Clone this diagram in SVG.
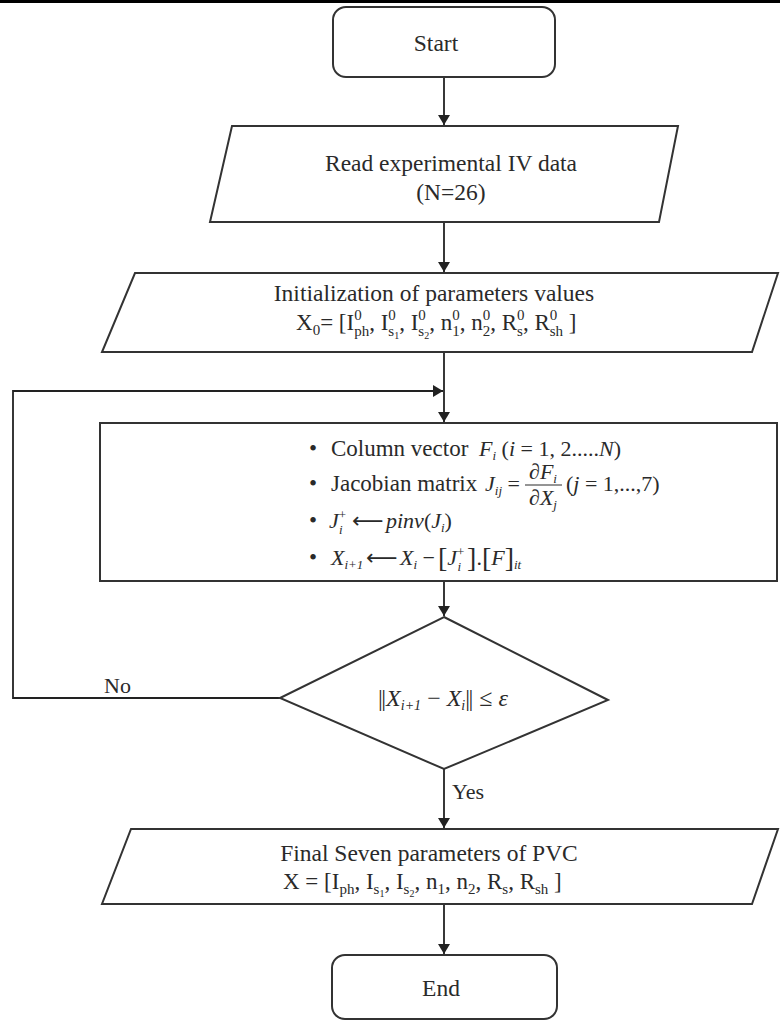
<svg xmlns="http://www.w3.org/2000/svg" width="780" height="1023" viewBox="0 0 780 1023">
<style>
.box{fill:#fff;stroke:#333;stroke-width:2}
.con{fill:none;stroke:#222;stroke-width:1.8}
text{font-family:"Liberation Serif","Times New Roman",serif;fill:#2a2a2a}
.t{font-size:23.5px}
.c{text-anchor:middle}
.s{font-size:15px}
.ss{font-size:10px}
.p{font-size:23px}
.m{font-size:22px}
.ms{font-size:13px}
.i{font-style:italic}
.ar{font-family:"DejaVu Sans",sans-serif}
</style>
<defs>
<marker id="arr" markerUnits="userSpaceOnUse" markerWidth="12" markerHeight="12" refX="10" refY="6" orient="auto">
<path d="M0,0 L10,6 L0,12 z" fill="#222"/>
</marker>
</defs>
<rect x="0" y="0" width="780" height="3" fill="#000"/>
<g id="connectors">
<line class="con" x1="444" y1="77" x2="444" y2="125" marker-end="url(#arr)"/>
<line class="con" x1="444" y1="222" x2="444" y2="272" marker-end="url(#arr)"/>
<line class="con" x1="444" y1="352" x2="444" y2="422" marker-end="url(#arr)"/>
<polyline class="con" points="280,698 13,698 13,391 443,391" marker-end="url(#arr)"/>
<line class="con" x1="444" y1="581" x2="444" y2="616" marker-end="url(#arr)"/>
<line class="con" x1="444" y1="769" x2="444" y2="828" marker-end="url(#arr)"/>
<line class="con" x1="444" y1="904" x2="444" y2="954" marker-end="url(#arr)"/>
<text x="104" y="693" style="font-size:22px">No</text>
<text x="452" y="799" style="font-size:22px">Yes</text>
</g>
<g id="start">
<rect class="box" x="333" y="7" width="222" height="70" rx="13"/>
<text class="t c" x="436" y="51">Start</text>
</g>
<g id="read">
<polygon class="box" points="232,126 678,126 659,222 210,222"/>
<text class="t c" x="451" y="171">Read experimental IV data</text>
<text class="t c" x="451" y="200">(N=26)</text>
</g>
<g id="init">
<polygon class="box" points="135,273 778,273 752,352 102,352"/>
<text class="t c" x="434" y="301">Initialization of parameters values</text>
<text class="p" x="296" y="330">X<tspan class="s" dy="5">0</tspan><tspan dy="-5">= [I</tspan><tspan class="s" dy="-10">0</tspan><tspan class="s" dx="-7.5" dy="16">ph</tspan><tspan dy="-6">, I</tspan><tspan class="s" dy="-10">0</tspan><tspan class="s" dx="-7.5" dy="16">s</tspan><tspan class="ss" dy="3">1</tspan><tspan dy="-9">, I</tspan><tspan class="s" dy="-10">0</tspan><tspan class="s" dx="-7.5" dy="16">s</tspan><tspan class="ss" dy="3">2</tspan><tspan dy="-9">, n</tspan><tspan class="s" dy="-10">0</tspan><tspan class="s" dx="-7.5" dy="16">1</tspan><tspan dy="-6">, n</tspan><tspan class="s" dy="-10">0</tspan><tspan class="s" dx="-7.5" dy="16">2</tspan><tspan dy="-6">, R</tspan><tspan class="s" dy="-10">0</tspan><tspan class="s" dx="-7.5" dy="16">s</tspan><tspan dy="-6">, R</tspan><tspan class="s" dy="-10">0</tspan><tspan class="s" dx="-7.5" dy="16">sh</tspan><tspan dy="-6"> ]</tspan></text>
</g>
<g id="process">
<rect class="box" x="100" y="423" width="677" height="158"/>
<text class="p" x="309" y="456">•</text>
<text class="p" x="331" y="456">Column vector</text>
<text class="m" x="479" y="456"><tspan class="i">F</tspan><tspan class="ms i" dy="4">i</tspan><tspan dy="-4"> (</tspan><tspan class="i">i</tspan> = 1, 2.....<tspan class="i">N</tspan>)</text>
<text class="p" x="309" y="491">•</text>
<text class="p" x="331" y="491">Jacobian matrix</text>
<text class="m" x="485" y="491"><tspan class="i">J</tspan><tspan class="ms i" dy="4">ij</tspan><tspan dy="-4"> =</tspan></text>
<text class="m c" x="543" y="479">∂<tspan class="i">F</tspan><tspan class="ms i" dy="4">i</tspan></text>
<line x1="525" y1="485" x2="562" y2="485" stroke="#2a2a2a" stroke-width="1"/>
<text class="m c" x="543" y="505">∂<tspan class="i">X</tspan><tspan class="ms i" dy="4">j</tspan></text>
<text class="m" x="566" y="491">(<tspan class="i">j</tspan> = 1,...,7)</text>
<text class="p" x="309" y="528">•</text>
<text class="m" x="329" y="528"><tspan class="i">J</tspan><tspan class="ms" dy="-9">+</tspan><tspan class="ms i" dx="-7" dy="15">i</tspan></text>
<text class="m ar" x="352" y="528">⟵</text>
<text class="m" x="386" y="528"><tspan class="i">pinv</tspan>(<tspan class="i">J</tspan><tspan class="ms i" dy="4">i</tspan><tspan dy="-4">)</tspan></text>
<text class="p" x="309" y="565">•</text>
<text class="m" x="331" y="565"><tspan class="i">X</tspan><tspan class="ms i" dy="4">i+1</tspan></text>
<text class="m ar" x="366" y="565">⟵</text>
<text class="m" x="400" y="565"><tspan class="i">X</tspan><tspan class="ms i" dy="4">i</tspan><tspan dy="-4"> −</tspan></text>
<text class="m" x="438" y="567"><tspan style="font-size:28px">[</tspan><tspan class="i" dy="-2">J</tspan><tspan class="ms" dy="-9">+</tspan><tspan class="ms i" dx="-7" dy="15">i</tspan><tspan dy="-4" dx="6" style="font-size:28px">]</tspan><tspan dy="-2">.</tspan><tspan style="font-size:28px" dy="2">[</tspan><tspan class="i" dy="-2">F</tspan><tspan style="font-size:28px" dy="2">]</tspan><tspan class="ms i" dy="2">it</tspan></text>
</g>
<g id="decision">
<polygon class="box" points="444,617 608,700 444,769 280,698"/>
<text class="c" x="443" y="706" style="font-size:24px"><tspan letter-spacing="-1.5">||</tspan><tspan dx="1.5" class="i">X</tspan><tspan class="ms i" dy="4" style="font-size:14px">i+1</tspan><tspan dy="-4"> − </tspan><tspan class="i">X</tspan><tspan class="ms i" dy="4" style="font-size:14px">i</tspan><tspan dy="-4" letter-spacing="-1.5">||</tspan><tspan dx="1.5"> ≤ </tspan><tspan class="i">ε</tspan></text>
</g>
<g id="final">
<polygon class="box" points="131,829 778,829 752,904 102,904"/>
<text class="t c" x="429" y="861">Final Seven parameters of PVC</text>
<text class="p" x="283" y="889">X = [I<tspan class="s" dy="5">ph</tspan><tspan dy="-5">, I</tspan><tspan class="s" dy="5">s</tspan><tspan class="ss" dy="3">1</tspan><tspan dy="-8">, I</tspan><tspan class="s" dy="5">s</tspan><tspan class="ss" dy="3">2</tspan><tspan dy="-8">, n</tspan><tspan class="s" dy="5">1</tspan><tspan dy="-5">, n</tspan><tspan class="s" dy="5">2</tspan><tspan dy="-5">, R</tspan><tspan class="s" dy="5">s</tspan><tspan dy="-5">, R</tspan><tspan class="s" dy="5">sh</tspan><tspan dy="-5"> ]</tspan></text>
</g>
<g id="end">
<rect class="box" x="332" y="955" width="225" height="64" rx="13"/>
<text class="t c" x="441" y="996">End</text>
</g>
</svg>
